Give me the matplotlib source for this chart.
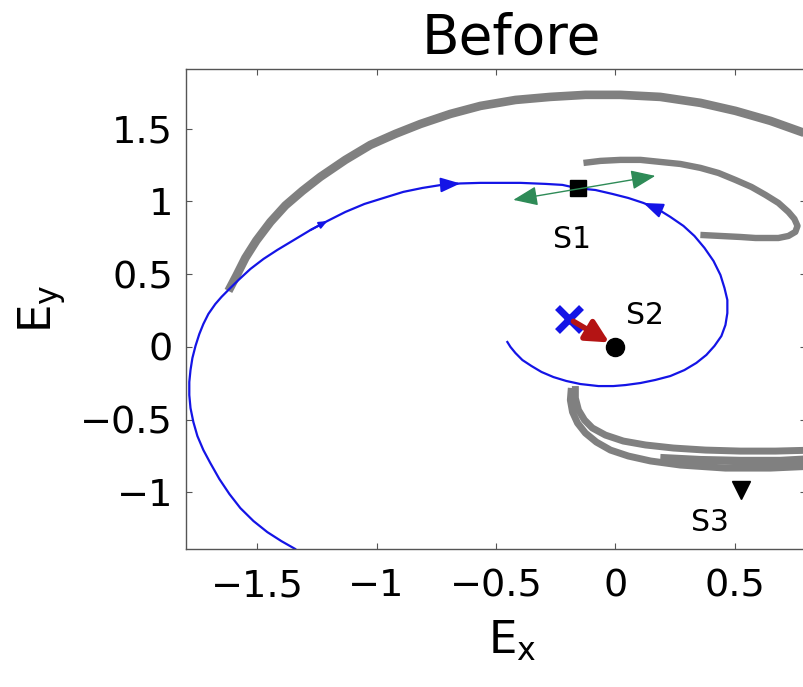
import numpy as np
import matplotlib.pyplot as plt

plt.rcParams['font.family'] = 'DejaVu Sans'
plt.rcParams['mathtext.default'] = 'regular'

# stable manifold of S1: from the lower-left edge up to S1, then round the inner spiral
blue_x = [-1.319, -1.340, -1.399, -1.458, -1.516, -1.571, -1.617, -1.659, -1.697, -1.726,
          -1.751, -1.768, -1.780, -1.785, -1.785, -1.780, -1.772, -1.759, -1.743, -1.726,
          -1.705, -1.676, -1.650, -1.621, -1.579, -1.529, -1.474, -1.416, -1.353, -1.277,
          -1.206, -1.131, -1.051, -0.971, -0.888, -0.808, -0.728, -0.649, -0.565, -0.481,
          -0.397, -0.293, -0.221, -0.158, -0.083, -0.012, 0.055, 0.118, 0.177, 0.231,
          0.286, 0.332, 0.374, 0.412, 0.441, 0.458, 0.470, 0.470, 0.462, 0.445,
          0.416, 0.382, 0.340, 0.290, 0.231, 0.168, 0.106, 0.043, -0.008, -0.070,
          -0.146, -0.205, -0.259, -0.309, -0.351, -0.389, -0.418, -0.439, -0.452]
blue_y = [-1.439, -1.391, -1.336, -1.274, -1.198, -1.109, -1.012, -0.909, -0.799, -0.710,
          -0.614, -0.517, -0.421, -0.332, -0.242, -0.160, -0.077, 0.006, 0.088, 0.157,
          0.226, 0.294, 0.343, 0.391, 0.459, 0.535, 0.604, 0.666, 0.728, 0.803,
          0.865, 0.927, 0.982, 1.023, 1.065, 1.092, 1.113, 1.123, 1.127, 1.127,
          1.127, 1.120, 1.113, 1.090, 1.078, 1.051, 1.023, 0.989, 0.948, 0.893,
          0.831, 0.762, 0.680, 0.590, 0.494, 0.404, 0.322, 0.232, 0.150, 0.074,
          0.006, -0.056, -0.111, -0.160, -0.201, -0.228, -0.249, -0.263, -0.270, -0.270,
          -0.256, -0.235, -0.208, -0.173, -0.132, -0.091, -0.043, -0.001, 0.033]
# flow direction arrows on the blue curve (from index, to index)
blue_arrows = [(36, 37), (48, 47)]
blue_small_arrows = [(29, 30)]

# gray trajectories
outer_x = [-1.621, -1.588, -1.550, -1.504, -1.445, -1.382, -1.311, -1.236, -1.131, -1.026,
           -0.921, -0.816, -0.691, -0.565, -0.418, -0.272, -0.125, 0.022, 0.189, 0.357,
           0.504, 0.651, 0.839]
outer_y = [0.384, 0.487, 0.611, 0.730, 0.858, 0.972, 1.072, 1.168, 1.285, 1.388,
           1.464, 1.532, 1.601, 1.656, 1.697, 1.718, 1.732, 1.732, 1.718, 1.677,
           1.622, 1.553, 1.443]

hook_x = [-0.133, -0.062, 0.022, 0.106, 0.189, 0.273, 0.357, 0.433, 0.504, 0.571, 0.630,
          0.684, 0.726, 0.751, 0.764, 0.755, 0.726, 0.684, 0.588, 0.525, 0.441, 0.357]
hook_y = [1.264, 1.278, 1.285, 1.285, 1.271, 1.257, 1.230, 1.195, 1.147, 1.099, 1.044,
          0.989, 0.927, 0.879, 0.831, 0.790, 0.762, 0.748, 0.748, 0.755, 0.762, 0.769]

low_a_x = [-0.167, -0.167, -0.154, -0.129, -0.096, -0.041, 0.034, 0.127, 0.244, 0.378,
           0.525, 0.672, 0.839]
low_a_y = [-0.270, -0.352, -0.435, -0.503, -0.558, -0.607, -0.648, -0.675, -0.696, -0.710,
           -0.717, -0.717, -0.710]
low_b_x = [-0.184, -0.188, -0.179, -0.158, -0.125, -0.079, -0.020, 0.055, 0.148, 0.273,
           0.462, 0.651, 0.839]
low_b_y = [-0.283, -0.366, -0.448, -0.524, -0.593, -0.655, -0.710, -0.751, -0.785, -0.813,
           -0.834, -0.834, -0.820]
low_c_x = [0.189, 0.357, 0.525, 0.692, 0.839]
low_c_y = [-0.765, -0.779, -0.785, -0.785, -0.772]

# fixed points and perturbation
s1 = (-0.158, 1.09)
s2 = (0.0, 0.0)
s3 = (0.529, -0.985)
start = (-0.192, 0.19)
kick_from, kick_to = (-0.175, 0.175), (-0.025, 0.03)
unstable_left, unstable_right = (-0.427, 1.010), (0.168, 1.175)

labels = ['S1', 'S2', 'S3']
label_x = [-0.179, 0.126, 0.399]
label_y = [0.735, 0.212, -1.205]

fig = plt.figure(figsize=(8.04, 6.87), dpi=100)
ax = fig.add_axes([0.231, 0.2009, 0.7716, 0.6987])

gray = '#808080'
ax.plot(outer_x, outer_y, color=gray, lw=6.2, solid_capstyle='butt', solid_joinstyle='round')
ax.plot(hook_x, hook_y, color=gray, lw=4.6, solid_capstyle='butt', solid_joinstyle='round')
ax.plot(low_a_x, low_a_y, color=gray, lw=5.0, solid_capstyle='butt', solid_joinstyle='round')
ax.plot(low_b_x, low_b_y, color=gray, lw=5.0, solid_capstyle='butt', solid_joinstyle='round')
ax.plot(low_c_x, low_c_y, color=gray, lw=6.0, solid_capstyle='butt', solid_joinstyle='round')

blue = '#1414e6'
ax.plot(blue_x, blue_y, color=blue, lw=1.6, solid_joinstyle='round')
for i, j in blue_arrows:
    ax.annotate('', xy=(blue_x[j], blue_y[j]), xytext=(blue_x[i], blue_y[i]),
                arrowprops=dict(arrowstyle='-|>,head_length=1.2,head_width=0.45',
                                color=blue, lw=1.4, mutation_scale=10,
                                shrinkA=0, shrinkB=0))
for i, j in blue_small_arrows:
    ax.annotate('', xy=(blue_x[j], blue_y[j]), xytext=(blue_x[i], blue_y[i]),
                arrowprops=dict(arrowstyle='-|>,head_length=0.6,head_width=0.25',
                                color=blue, lw=1.4, mutation_scale=8,
                                shrinkA=0, shrinkB=0))

ax.plot(*s1, marker='s', color='black', ms=11, ls='none')
ax.annotate('', xy=unstable_left, xytext=unstable_right,
            arrowprops=dict(arrowstyle='<|-|>,head_length=1.0,head_width=0.4',
                            color='#2e8b57', lw=1.0, mutation_scale=15,
                            shrinkA=0, shrinkB=0))

ax.plot(*start, marker='x', color=blue, ms=17, mew=5, ls='none')
ax.annotate('', xy=kick_to, xytext=kick_from,
            arrowprops=dict(arrowstyle='-|>,head_length=0.75,head_width=0.38',
                            color='#b41414', lw=4.0, mutation_scale=18,
                            shrinkA=0, shrinkB=0))
ax.plot(*s2, marker='o', color='black', ms=13, ls='none')
ax.plot(*s3, marker='v', color='black', ms=13, ls='none')

for t, x, y in zip(labels, label_x, label_y):
    ax.text(x, y, t, fontsize=21.5, ha='center', va='center')

ax.set_xlim(-1.8, 0.8)
ax.set_ylim(-1.39, 1.91)
ax.set_xticks([-1.5, -1, -0.5, 0, 0.5])
ax.set_xticklabels(['\u22121.5', '\u22121', '\u22120.5', '0', '0.5'])
ax.set_yticks([-1, -0.5, 0, 0.5, 1, 1.5])
ax.set_yticklabels(['\u22121', '\u22120.5', '0', '0.5', '1', '1.5'])
ax.tick_params(direction='in', length=4.5, width=0.8, color='#555555',
               top=True, right=True, labelsize=27.5)
ax.tick_params(axis='x', pad=14)
ax.tick_params(axis='y', pad=9)
for sp in ax.spines.values():
    sp.set_color('#555555')
    sp.set_linewidth(1.0)

ax.set_xlabel('$E_x$', fontsize=32.5)
ax.xaxis.set_label_coords(0.526, -0.145)
ax.set_ylabel('$E_y$', fontsize=32.5)
ax.yaxis.set_label_coords(-0.19, 0.5)

fig.text(0.6356, 0.922, 'Before', fontsize=39.5, ha='center', va='baseline')

fig.savefig('out.png', dpi=100)
